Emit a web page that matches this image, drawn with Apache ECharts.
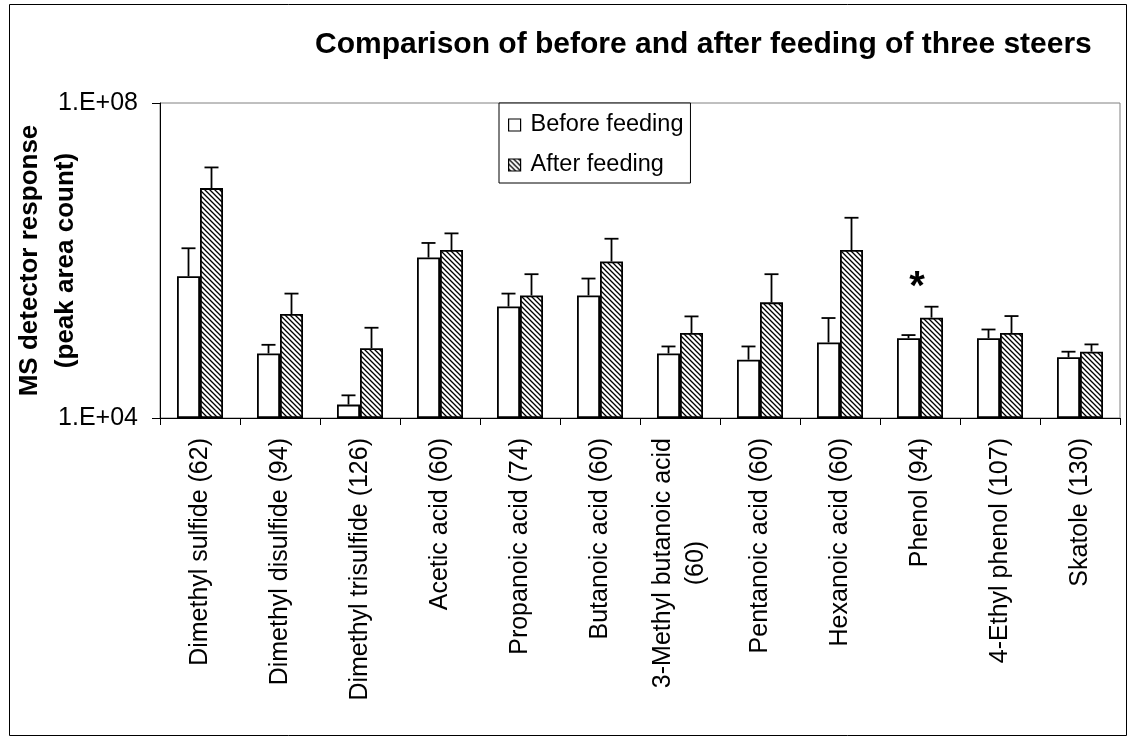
<!DOCTYPE html>
<html>
<head>
<meta charset="utf-8">
<script src="https://cdn.jsdelivr.net/npm/echarts@6/dist/echarts.min.js"></script>
<style>
  html, body { margin: 0; padding: 0; background: #fff; }
  #chart { width: 1128px; height: 738px; }
</style>
</head>
<body>
<div id="chart"></div>
<script>
// Volatile compounds (quantitation ion in brackets)
const categories = [
  'Dimethyl sulfide (62)',
  'Dimethyl disulfide (94)',
  'Dimethyl trisulfide (126)',
  'Acetic acid (60)',
  'Propanoic acid (74)',
  'Butanoic acid (60)',
  '3-Methyl butanoic acid\n(60)',
  'Pentanoic acid (60)',
  'Hexanoic acid (60)',
  'Phenol (94)',
  '4-Ethyl phenol (107)',
  'Skatole (130)'
];

// Mean peak area counts
const beforeFeeding = [6.3e5, 6.6e4, 1.48e4, 1.09e6, 2.6e5, 3.6e5, 6.6e4, 5.5e4, 9.1e4, 1.03e5, 1.03e5, 5.9e4];
const afterFeeding  = [8.3e6, 2.09e5, 7.7e4, 1.36e6, 3.6e5, 9.7e5, 1.2e5, 2.94e5, 1.36e6, 1.88e5, 1.2e5, 6.95e4];

// Upper error (standard deviation)
const beforeError = [8.0e5, 1.9e4, 4.6e3, 5.8e5, 1.2e5, 2.3e5, 1.5e4, 2.6e4, 9.5e4, 1.0e4, 3.0e4, 1.05e4];
const afterError  = [6.9e6, 1.71e5, 6.3e4, 8.5e5, 3.1e5, 9.2e5, 7.5e4, 3.76e5, 2.13e6, 7.1e4, 7.7e4, 1.65e4];

// Compounds with a significant difference
const significant = ['Phenol (94)'];

// Y axis ticks
const tickValues = [1e4, 1e8];
const tickLabels = ['1.E+04', '1.E+08'];

const FONT = '"Liberation Sans", Arial, Helvetica, sans-serif';
const BAR_FRACTION = 0.2875;

// Diagonal hatch fill for the "after" bars
function hatchPattern() {
  const s = 5;
  const c = document.createElement('canvas');
  c.width = s; c.height = s;
  const g = c.getContext('2d');
  g.fillStyle = '#fff';
  g.fillRect(0, 0, s, s);
  g.strokeStyle = '#000';
  g.lineWidth = 1.3;
  g.beginPath();
  g.moveTo(-2, -2); g.lineTo(s + 2, s + 2);
  g.moveTo(s - 2, -2); g.lineTo(s + 2, 2);
  g.moveTo(-2, s - 2); g.lineTo(2, s + 2);
  g.stroke();
  return { image: c, repeat: 'repeat' };
}

function errorRenderer(side) {
  return function (params, api) {
    const i = api.value(0);
    const base = api.coord([i, api.value(1)]);
    const high = api.coord([i, api.value(1) + api.value(2)]);
    const band = api.size([1, 0], [i, 1e5])[0];
    const x = base[0] + side * band * BAR_FRACTION / 2;
    const cap = 7;
    const st = { stroke: '#000', lineWidth: 1.8 };
    const children = [
      { type: 'line', shape: { x1: x, y1: base[1], x2: x, y2: high[1] }, style: st },
      { type: 'line', shape: { x1: x - cap, y1: high[1], x2: x + cap, y2: high[1] }, style: st }
    ];
    if (side > 0 && significant.indexOf(categories[i]) >= 0) {
      children.push({
        type: 'text',
        style: {
          x: base[0] - 3, y: high[1] - 18.5, text: '*',
          fill: '#000', font: 'bold 40px ' + FONT,
          align: 'center', verticalAlign: 'middle'
        }
      });
    }
    return { type: 'group', children: children };
  };
}

const chart = echarts.init(document.getElementById('chart'), null, { renderer: 'canvas' });

const labelRich = { c: { fontSize: 25, fontFamily: FONT, color: '#000', lineHeight: 33, align: 'center' } };

chart.setOption({
  animation: false,
  backgroundColor: '#fff',
  textStyle: { fontFamily: FONT },
  title: {
    text: 'Comparison of before and after feeding of three steers',
    left: 315, top: 30, padding: 0,
    textStyle: { fontSize: 30, fontWeight: 'bold', color: '#000', fontFamily: FONT }
  },
  graphic: [{
    type: 'rect', silent: true,
    shape: { x: 9.5, y: 4.5, width: 1117, height: 731 },
    style: { fill: 'none', stroke: '#000', lineWidth: 1 }
  }],
  legend: {
    data: ['Before feeding', 'After feeding'],
    orient: 'vertical',
    left: 499, top: 103,
    padding: [10, 7, 6, 9],
    icon: 'rect',
    itemWidth: 12, itemHeight: 12, itemGap: 16,
    backgroundColor: '#fff',
    borderColor: '#000', borderWidth: 1,
    itemStyle: { borderColor: '#000', borderWidth: 1.2 },
    textStyle: { fontSize: 23.5, color: '#000', fontFamily: FONT, lineHeight: 24, padding: [0, 0, 0, 5] },
    selectedMode: false
  },
  grid: {
    left: 160, right: 8, top: 103, bottom: 320,
    containLabel: false, outerBoundsMode: 'none',
    show: true, borderColor: '#808080', borderWidth: 1, backgroundColor: '#fff'
  },
  xAxis: {
    type: 'category',
    data: categories,
    axisLine: { onZero: false, lineStyle: { color: '#000', width: 1 } },
    axisTick: { show: true, length: 7, lineStyle: { color: '#000' } },
    axisLabel: {
      interval: 0, rotate: 90, margin: 20,
      formatter: function (v) {
        return v.split('\n').map(function (s) { return '{c|' + s + '}'; }).join('\n');
      },
      rich: labelRich
    },
    splitLine: { show: false }
  },
  yAxis: {
    type: 'log', logBase: 10,
    min: 1e4, max: 1e8, startValue: 1e4,
    name: 'MS detector response\n(peak area count)',
    nameLocation: 'middle', nameRotate: 90, nameGap: 76, nameMoveOverlap: false,
    nameTextStyle: { fontSize: 26, fontWeight: 'bold', color: '#000', fontFamily: FONT, lineHeight: 36 },
    axisLine: { show: true, lineStyle: { color: '#000', width: 1 } },
    axisTick: { show: true, length: 8, customValues: tickValues, lineStyle: { color: '#000' } },
    axisLabel: {
      customValues: tickValues, margin: 22, fontSize: 25, color: '#000', fontFamily: FONT,
      formatter: function (v) {
        const k = tickValues.findIndex(function (t) { return Math.abs(Math.log10(t) - Math.log10(v)) < 1e-6; });
        return k >= 0 ? tickLabels[k] : '';
      }
    },
    splitLine: { show: false },
    minorTick: { show: false }
  },
  series: [
    {
      name: 'Before feeding', type: 'bar', data: beforeFeeding,
      barWidth: (BAR_FRACTION * 100) + '%', barGap: '0%', clip: true,
      itemStyle: { color: '#fff', borderColor: '#000', borderWidth: 1.8 }
    },
    {
      name: 'After feeding', type: 'bar', data: afterFeeding,
      barWidth: (BAR_FRACTION * 100) + '%', barGap: '0%', clip: true,
      itemStyle: { color: hatchPattern(), borderColor: '#000', borderWidth: 1.8 }
    },
    {
      type: 'custom', renderItem: errorRenderer(-1), z: 5,
      encode: { x: 0, y: 1 },
      data: beforeFeeding.map(function (v, i) { return [i, v, beforeError[i]]; })
    },
    {
      type: 'custom', renderItem: errorRenderer(1), z: 5,
      encode: { x: 0, y: 1 },
      data: afterFeeding.map(function (v, i) { return [i, v, afterError[i]]; })
    }
  ]
});
</script>
</body>
</html>
